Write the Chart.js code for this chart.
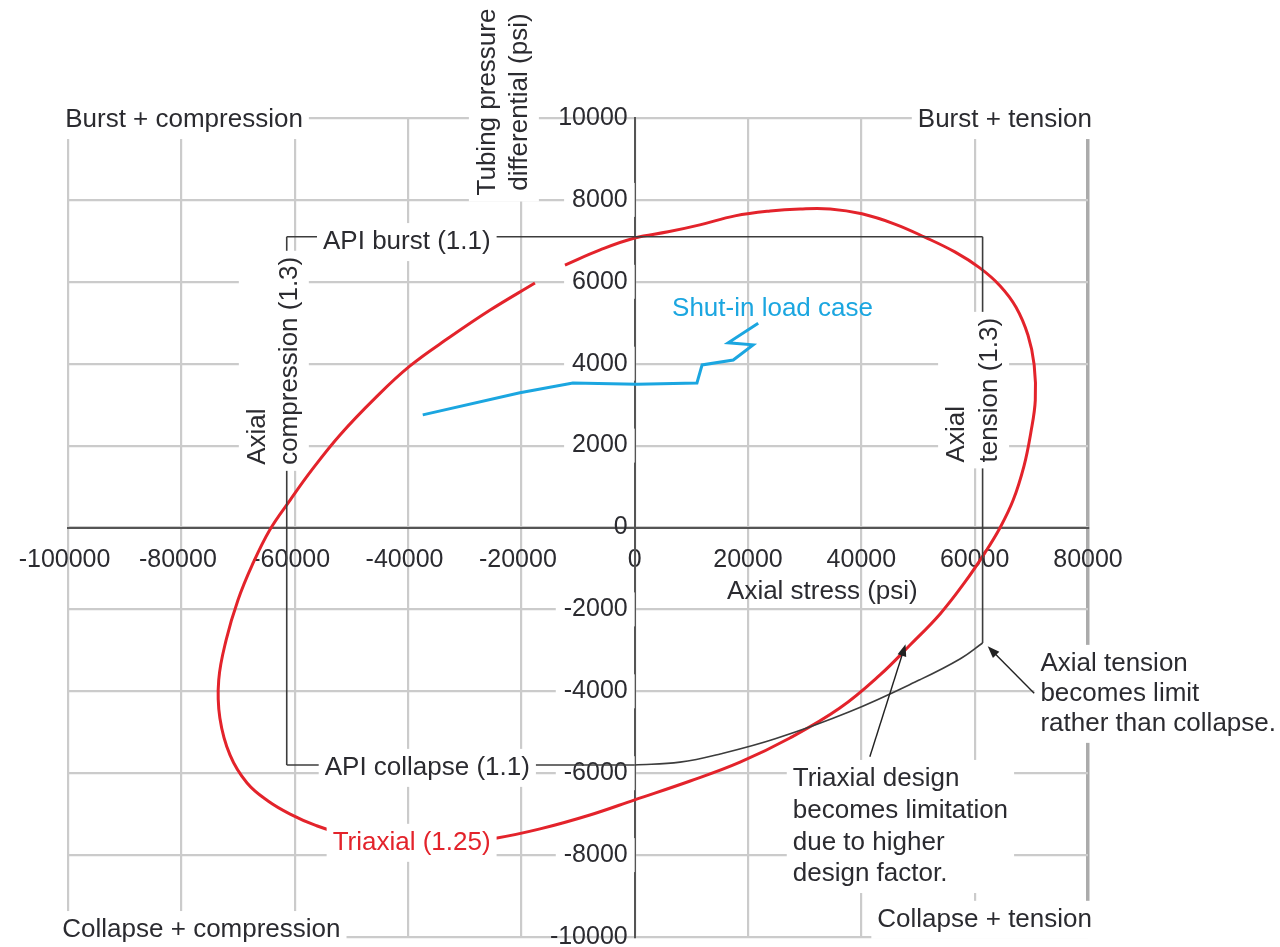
<!DOCTYPE html>
<html>
<head>
<meta charset="utf-8">
<title>Tubing design envelope</title>
<script src="https://cdn.jsdelivr.net/npm/chart.js@4.4.1/dist/chart.umd.min.js"></script>
<style>
  html, body { margin: 0; padding: 0; background: #fff; }
  #wrap { width: 1280px; height: 947px; }
</style>
</head>
<body>
<div id="wrap"><canvas id="chart" width="1280" height="947"></canvas></div>
<script>
// Axial stress (psi) vs tubing pressure differential (psi)

// Triaxial (1.25) envelope, traced from the upper-left end, down the left side,
// along the bottom, up the right side and back over the top
const triaxialStress = [
  -17600, -25500, -32600, -39700, -45800, -52000, -57000, -60800, -64400, -67500,
  -70000, -72100, -73400, -73200, -71400, -68400, -64700, -60800, -56400, -51100,
  -41400, -32600, -24300, -16700, -7900, 0, 9800, 18600, 27400, 36200,
  43300, 48600, 53900, 58300, 61800, 64500, 66800, 68700, 69900, 70700,
  70500, 69400, 67300, 64500, 60900, 56500, 51200, 45900, 40100, 34500,
  29200, 23900, 17700, 11500, 5900, 0, -6100, -12300,
];
const triaxialPressure = [
  5970, 5310, 4650, 3940, 3160, 2260, 1400, 670, -60, -920,
  -1770, -2750, -3720, -4650, -5560, -6240, -6680, -7000, -7270, -7490,
  -7680, -7700, -7580, -7360, -7020, -6650, -6190, -5730, -5140, -4410,
  -3600, -2870, -2110, -1330, -620, 0, 670, 1500, 2310, 3110,
  3970, 4700, 5380, 5900, 6340, 6730, 7090, 7410, 7660, 7780,
  7780, 7730, 7610, 7390, 7220, 7070, 6780, 6410,
];

// Shut-in load case
const shutInStress   = [-37400, -20250, -10900, 400, 10990, 11900, 17400, 20900, 16500, 21800];
const shutInPressure = [2750, 3290, 3530, 3500, 3530, 3970, 4090, 4460, 4510, 4990];

// API / axial design lines
const apiBurstStress      = [-61400, 61400];
const apiBurstPressure    = [7100, 7100];
const tensionStress       = [61400, 61400];
const tensionPressure     = [7100, -2820];
const compressionStress   = [-61400, -61400];
const compressionPressure = [7100, -5800];
const apiCollapseStress   = [-61400, 0];
const apiCollapsePressure = [-5800, -5800];
const collapseCurveStress   = [0, 8000, 15100, 24800, 37900, 50300, 57400, 61400];
const collapseCurvePressure = [-5800, -5730, -5530, -5160, -4500, -3720, -3210, -2820];

// Axis ticks
const stressTicks   = [-100000, -80000, -60000, -40000, -20000, 0, 20000, 40000, 60000, 80000];
const pressureTicks = [-10000, -8000, -6000, -4000, -2000, 0, 2000, 4000, 6000, 8000, 10000];

const FONT = '"Liberation Sans", Arial, Helvetica, sans-serif';
const INK = '#2b2b30';
const RED = '#e3232b';
const BLUE = '#1ba6e0';
const LINE = '#3c3c3c';

const toPoints = (xs, ys) => xs.map((x, i) => ({ x, y: ys[i] }));

// Text notes, anchored in data units
const NOTES = [
  { lines: ['Burst + compression'], x: -100500, y: 9950, align: 'left' },
  { lines: ['Burst + tension'], x: 80700, y: 9950, align: 'right' },
  { lines: ['Collapse + compression'], x: -101000, y: -9830, align: 'left' },
  { lines: ['Collapse + tension'], x: 80700, y: -9580, align: 'right' },
  { lines: ['API burst (1.1)'], x: -55000, y: 6970, align: 'left' },
  { lines: ['API collapse (1.1)'], x: -54700, y: -5870, align: 'left' },
  { lines: ['Triaxial (1.25)'], x: -53300, y: -7700, align: 'left', color: RED },
  { lines: ['Shut-in load case'], x: 6600, y: 5340, align: 'left', color: BLUE, noBox: true },
  { lines: ['Axial stress (psi)'], x: 16300, y: -1570, align: 'left', noBox: true },
  { lines: ['Tubing pressure', 'differential (psi)'], x: -25900, y: 10390, align: 'center', rotate: true, lineHeight: 32 },
  { lines: ['Axial', 'compression (1.3)'], x: -66500, y: 1530, align: 'left', rotate: true, lineHeight: 32 },
  { lines: ['Axial', 'tension (1.3)'], x: 56900, y: 1590, align: 'left', rotate: true, lineHeight: 33 },
  { lines: ['Axial tension', 'becomes limit', 'rather than collapse.'], x: 71600, y: -3330, align: 'left', lineHeight: 30 },
  { lines: ['Triaxial design', 'becomes limitation', 'due to higher', 'design factor.'], x: 27900, y: -6140, align: 'left', lineHeight: 31.7 },
];

const ARROWS = [
  { from: [70500, -4050], to: [62300, -2900] },
  { from: [41500, -5600], to: [47800, -2850] },
];

const notesPlugin = {
  id: 'notes',
  afterDatasetsDraw(chart) {
    const { ctx, scales: { x, y } } = chart;
    ctx.save();
    ctx.font = '26px ' + FONT;
    ctx.textBaseline = 'middle';

    NOTES.forEach(n => {
      const px = x.getPixelForValue(n.x);
      const py = y.getPixelForValue(n.y);
      const lh = n.lineHeight || 30;
      const w = Math.max(...n.lines.map(t => ctx.measureText(t).width));
      const h = lh * (n.lines.length - 1) + 26;

      ctx.save();
      ctx.translate(px, py);
      if (n.rotate) ctx.rotate(-Math.PI / 2);

      // white box behind the text
      if (!n.noBox) {
        let left = 0;
        if (n.align === 'right') left = -w;
        if (n.align === 'center') left = -w / 2;
        ctx.fillStyle = '#fff';
        ctx.fillRect(left - 6, -13 - 6, w + 12, h + 12);
      }

      ctx.fillStyle = n.color || INK;
      ctx.textAlign = n.align;
      n.lines.forEach((t, i) => ctx.fillText(t, 0, i * lh));
      ctx.restore();
    });

    // arrows
    ctx.strokeStyle = '#222';
    ctx.fillStyle = '#222';
    ctx.lineWidth = 1.4;
    ARROWS.forEach(a => {
      const x1 = x.getPixelForValue(a.from[0]), y1 = y.getPixelForValue(a.from[1]);
      const x2 = x.getPixelForValue(a.to[0]), y2 = y.getPixelForValue(a.to[1]);
      const ang = Math.atan2(y2 - y1, x2 - x1);
      const c = Math.cos(ang), s = Math.sin(ang);
      ctx.beginPath();
      ctx.moveTo(x1, y1);
      ctx.lineTo(x2 - 8 * c, y2 - 8 * s);
      ctx.stroke();
      ctx.beginPath();
      ctx.moveTo(x2, y2);
      ctx.lineTo(x2 - 12 * c + 4.5 * s, y2 - 12 * s - 4.5 * c);
      ctx.lineTo(x2 - 12 * c - 4.5 * s, y2 - 12 * s + 4.5 * c);
      ctx.closePath();
      ctx.fill();
    });
    ctx.restore();
  },
};

const designLine = (data, tension = 0) => ({
  data,
  showLine: true,
  borderColor: LINE,
  borderWidth: 1.6,
  pointRadius: 0,
  tension,
});

new Chart(document.getElementById('chart'), {
  type: 'scatter',
  data: {
    datasets: [
      designLine(toPoints(apiBurstStress, apiBurstPressure)),
      designLine(toPoints(tensionStress, tensionPressure)),
      designLine(toPoints(compressionStress, compressionPressure)),
      designLine(toPoints(apiCollapseStress, apiCollapsePressure)),
      designLine(toPoints(collapseCurveStress, collapseCurvePressure), 0.4),
      {
        label: 'Shut-in load case',
        data: toPoints(shutInStress, shutInPressure),
        showLine: true,
        borderColor: BLUE,
        borderWidth: 3,
        pointRadius: 0,
        tension: 0,
      },
      {
        label: 'Triaxial (1.25)',
        data: toPoints(triaxialStress, triaxialPressure),
        showLine: true,
        borderColor: RED,
        borderWidth: 3,
        pointRadius: 0,
        tension: 0.4,
      },
    ],
  },
  options: {
    responsive: false,
    animation: false,
    events: [],
    layout: { padding: { left: 68, right: 192, top: 118, bottom: 10 } },
    plugins: { legend: { display: false }, tooltip: { enabled: false } },
    scales: {
      x: {
        type: 'linear',
        min: stressTicks[0],
        max: stressTicks[stressTicks.length - 1],
        position: { y: 0 },
        afterFit(scale) {
          scale.height = 0;
          scale.paddingLeft = 0;
          scale.paddingRight = 0;
        },
        afterBuildTicks(scale) { scale.ticks = stressTicks.map(value => ({ value })); },
        ticks: {
          color: INK,
          font: { family: FONT, size: 25 },
          padding: 18,
          maxRotation: 0,
          minRotation: 0,
          autoSkip: false,
          callback: v => (v < 0 ? v + ' ' : String(v)),
        },
        grid: {
          drawTicks: false,
          color: c => (c.tick && c.tick.value === 80000 ? '#ababab' : '#cbcbcb'),
          lineWidth: c => (c.tick && c.tick.value === 80000 ? 3.5 : 2.2),
        },
        border: { display: true, color: '#555', width: 2 },
      },
      y: {
        type: 'linear',
        min: pressureTicks[0],
        max: pressureTicks[pressureTicks.length - 1],
        position: { x: 0 },
        afterFit(scale) {
          scale.width = 0;
          scale.paddingTop = 0;
          scale.paddingBottom = 0;
        },
        afterBuildTicks(scale) { scale.ticks = pressureTicks.map(value => ({ value })); },
        ticks: {
          color: INK,
          font: { family: FONT, size: 25 },
          padding: 0,
          autoSkip: false,
          callback: v => v + ' ',
          showLabelBackdrop: c => c.tick && c.tick.value !== 0 && Math.abs(c.tick.value) !== 10000,
          backdropColor: '#fff',
          backdropPadding: { left: 8, right: 0, top: 2, bottom: 2 },
        },
        grid: {
          drawTicks: false,
          color: '#cbcbcb',
          lineWidth: 2.2,
        },
        border: { display: true, color: '#555', width: 2 },
      },
    },
  },
  plugins: [notesPlugin],
});
</script>
</body>
</html>
